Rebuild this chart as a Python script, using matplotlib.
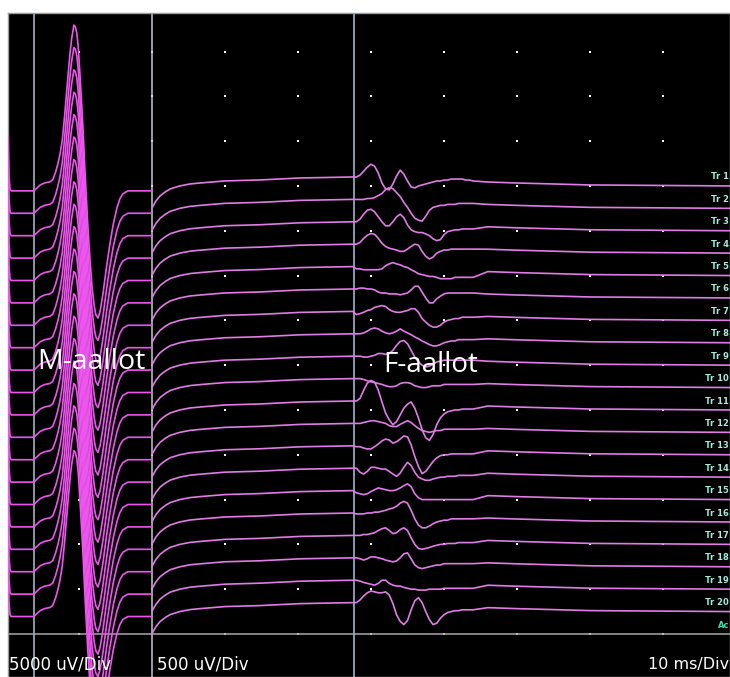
import numpy as np
import matplotlib
matplotlib.use("Agg")
import matplotlib.pyplot as plt

# ---------------- data ----------------
MS_PER_DIV = 10
LEFT_UV_PER_DIV = 5000      # gain left of the gain switch
RIGHT_UV_PER_DIV = 500      # gain right of the gain switch
GAIN_SWITCH_MS = 20.0
CURSORS_MS = [3.84, 20.0, 47.67]

TRACE_LABELS = [f"Tr {i}" for i in range(1, 21)]
ACC_LABEL = "Ac"

# M-wave (common to all traces), time in ms, amplitude in mV
M_T = [0.3, 0.4, 0.55, 0.7, 3.8, 4.1, 4.7, 5.3, 6.0, 6.4, 6.8, 7.1, 7.4, 7.7, 8.0,
       8.2, 8.5, 8.8, 9.0, 9.3, 9.5, 9.7, 9.9, 10.1, 10.4, 10.6, 10.8, 11.0, 11.2,
       11.5, 11.8, 12.1, 12.3, 12.6, 12.9, 13.3, 13.7, 14.2, 14.7, 15.2, 15.6,
       16.0, 16.7, 17.7, 19.9]
M_MV = [6.1, 1.7, 0.22, 0.0, 0.0, 0.22, 0.67, 0.89, 1.0, 1.23, 2.1, 3.0, 4.1, 5.6,
        8.1, 10.0, 12.9, 15.6, 17.0, 18.5, 18.3, 17.6, 16.0, 13.4, 9.2, 6.1, 2.5,
        -0.56, -3.7, -7.6, -10.9, -12.9, -13.8, -14.2, -13.4, -11.4, -8.9, -6.1,
        -3.7, -1.9, -0.9, -0.33, 0.0, 0.0, 0.0]
M_OFFSET_MV = -0.55

# slow recovery after the gain switch (uV), common to all traces
PRE_T = [20.0, 20.55, 21.1, 21.8, 22.5, 23.8, 25.2, 26.6, 30.0, 34.8, 40.3, 47.5]
PRE_UV = [-245, -167, -112, -67, -33, 0, 22, 33, 56, 67, 89, 100]
POST_T = [66.0, 70.0, 80.0, 99.5]
POST_UV = [44, 33, 11, 0]

# F-waves, sampled every 0.5 ms from 48 to 64 ms (uV)
F_T = np.arange(48.0, 64.01, 0.5)
F_UV = [
    [99,121,165,209,242,220,143,33,-33,-44,22,110,176,132,55,-11,-22,0,11,22,33,44,55,55,66,66,77,77,77,77,66,66,55],
    [99,99,99,110,110,121,143,165,209,231,220,176,132,66,11,-55,-110,-132,-143,-88,-22,11,22,33,33,44,44,44,55,55,55,55,55],
    [100,130,185,230,240,210,155,100,55,55,100,155,185,145,65,10,-10,-20,-20,-35,-55,-90,-110,-100,-45,-10,0,10,10,20,20,20,20],
    [100,120,165,200,220,210,165,110,75,55,45,35,20,20,45,75,100,90,20,-35,-65,-45,0,20,35,35,45,45,45,45,45,45,45],
    [75,75,65,65,65,65,65,75,110,130,145,130,120,100,90,65,45,20,10,0,-10,-10,-20,-35,-35,-35,-35,-20,-20,-20,-20,-20,-20],
    [100,110,110,100,100,90,65,55,55,45,45,45,35,45,55,90,130,130,65,0,-55,-55,-10,20,45,55,55,55,55,55,55,55,55],
    [65,75,90,110,120,145,155,165,155,120,100,90,90,100,110,130,130,90,20,-20,-55,-75,-75,-55,-20,0,10,20,20,35,35,35,35],
    [100,100,110,130,155,165,155,130,110,100,110,130,155,130,110,90,65,45,20,0,-20,-35,-35,-20,0,10,20,20,35,35,35,35,35],
    [100,100,90,90,100,110,130,130,120,130,165,220,265,275,240,165,90,35,0,-20,-10,10,35,45,55,55,55,55,55,55,55,55,55],
    [100,100,90,75,65,55,45,35,20,10,10,20,45,55,55,45,20,10,0,0,10,20,20,20,35,35,35,35,35,35,35,35,35],
    [100,130,220,300,330,310,220,90,-35,-110,-165,-130,-55,20,65,90,20,-90,-220,-310,-340,-275,-165,-90,-45,-20,-10,0,0,10,10,10,10],
    [100,100,110,120,130,130,120,110,100,75,65,65,90,110,130,110,75,45,20,10,0,10,20,20,35,35,35,35,35,35,35,35,35],
    [90,90,75,65,65,90,120,155,175,165,130,145,175,210,200,110,-20,-130,-210,-185,-130,-75,-35,-10,0,0,10,10,10,10,10,10,10],
    [100,55,35,65,110,110,100,90,90,65,35,10,45,110,165,130,55,0,-20,-35,-35,-20,-10,0,0,10,10,10,20,20,20,20,20],
    [75,65,55,65,90,110,130,120,110,100,100,110,130,155,175,145,65,20,0,0,0,0,0,0,0,0,0,0,0,0,0,0,0],
    [90,90,90,100,100,110,110,120,130,145,155,175,210,230,210,130,35,-35,-65,-65,-45,-20,0,10,20,20,35,35,35,35,35,35,35],
    [100,100,110,110,120,130,155,175,185,155,120,130,165,185,155,75,0,-45,-55,-45,-35,-20,-10,0,0,10,10,10,20,20,20,20,20],
    [100,90,75,90,110,110,100,90,75,65,55,65,100,145,155,90,20,-10,-20,-10,0,10,20,20,35,35,35,35,35,35,35,35,35],
    [100,90,75,65,55,45,65,100,100,65,45,35,35,20,10,0,0,-10,-10,-10,0,0,0,0,10,10,10,10,10,10,10,10,10],
    [100,130,175,210,230,220,210,210,220,185,90,-35,-110,-145,-100,20,120,155,100,0,-90,-145,-130,-75,-35,-10,0,10,10,20,20,20,20],
]

# ---------------- figure ----------------
W, H = 730, 677
fig = plt.figure(figsize=(W / 100, H / 100), dpi=100, facecolor="white")
ax = fig.add_axes([8 / W, 0, 1 - 8 / W, (H - 13) / H])
ax.set_facecolor("black")
ax.set_xlim(0.274, 99.18)
ax.set_ylim(-0.96, 13.86)
ax.set_xticks([]); ax.set_yticks([])
for s in ax.spines.values():
    s.set_color("#9a9a9a"); s.set_linewidth(1.0)

# grid dots
gx, gy = np.meshgrid(np.arange(10, 91, MS_PER_DIV), np.arange(0, 14))
ax.scatter(gx.ravel(), gy.ravel(), s=2.5, c="white", marker="s", linewidths=0, zorder=1)

# cursors
ax.axvline(CURSORS_MS[0], color="#a9c3d6", lw=1.1, zorder=1)
ax.axvline(CURSORS_MS[1], color="#c4cad0", lw=1.1, zorder=1)
ax.axvline(CURSORS_MS[2], color="#a6c6e4", lw=1.1, zorder=1)
ax.axhline(0, color="#a8a8a8", lw=1.1, zorder=1)

TRACE_COLOR = "#e07ce6"
M_COLOR = "#ee55ee"
right_t = np.concatenate([PRE_T, F_T, POST_T])
m_div = (np.array(M_MV) + M_OFFSET_MV) * 1000 / LEFT_UV_PER_DIV

LABEL_X = 99.05   # right edge of the labels, just inside the frame
for k in range(20):
    base = 10.0 - 0.5 * k
    ax.plot(M_T, base + m_div, color=M_COLOR, lw=1.2, zorder=3,
            solid_joinstyle="round")
    right_uv = np.concatenate([PRE_UV, F_UV[k], POST_UV])
    ax.plot(right_t, base + right_uv / RIGHT_UV_PER_DIV, color=TRACE_COLOR,
            lw=1.2, zorder=3, solid_joinstyle="round")
    ax.text(LABEL_X, base + 0.2, TRACE_LABELS[k], color="#a2eedc", fontsize=6.0,
            fontweight="bold", ha="right", va="center", zorder=4)
ax.text(LABEL_X, 0.2, ACC_LABEL, color="#3fe0a4", fontsize=6.0,
        fontweight="bold", ha="right", va="center", zorder=4)

# annotations
ax.text(4.25, 6.07, "M-aallot", color="white", fontsize=20.5,
        family="Open Sans", ha="left", va="center", zorder=5)
ax.text(51.7, 6.0, "F-aallot", color="white", fontsize=20,
        family="Open Sans", ha="left", va="center", zorder=5)

ax.text(0.45, -0.69, "5000 uV/Div", color="white", fontsize=12,
        ha="left", va="center", zorder=5)
ax.text(20.65, -0.69, "500 uV/Div", color="white", fontsize=12,
        ha="left", va="center", zorder=5)
ax.text(99.0, -0.69, "10 ms/Div", color="white", fontsize=11.5,
        ha="right", va="center", zorder=5)

fig.savefig("out.png", dpi=100, facecolor="white")
